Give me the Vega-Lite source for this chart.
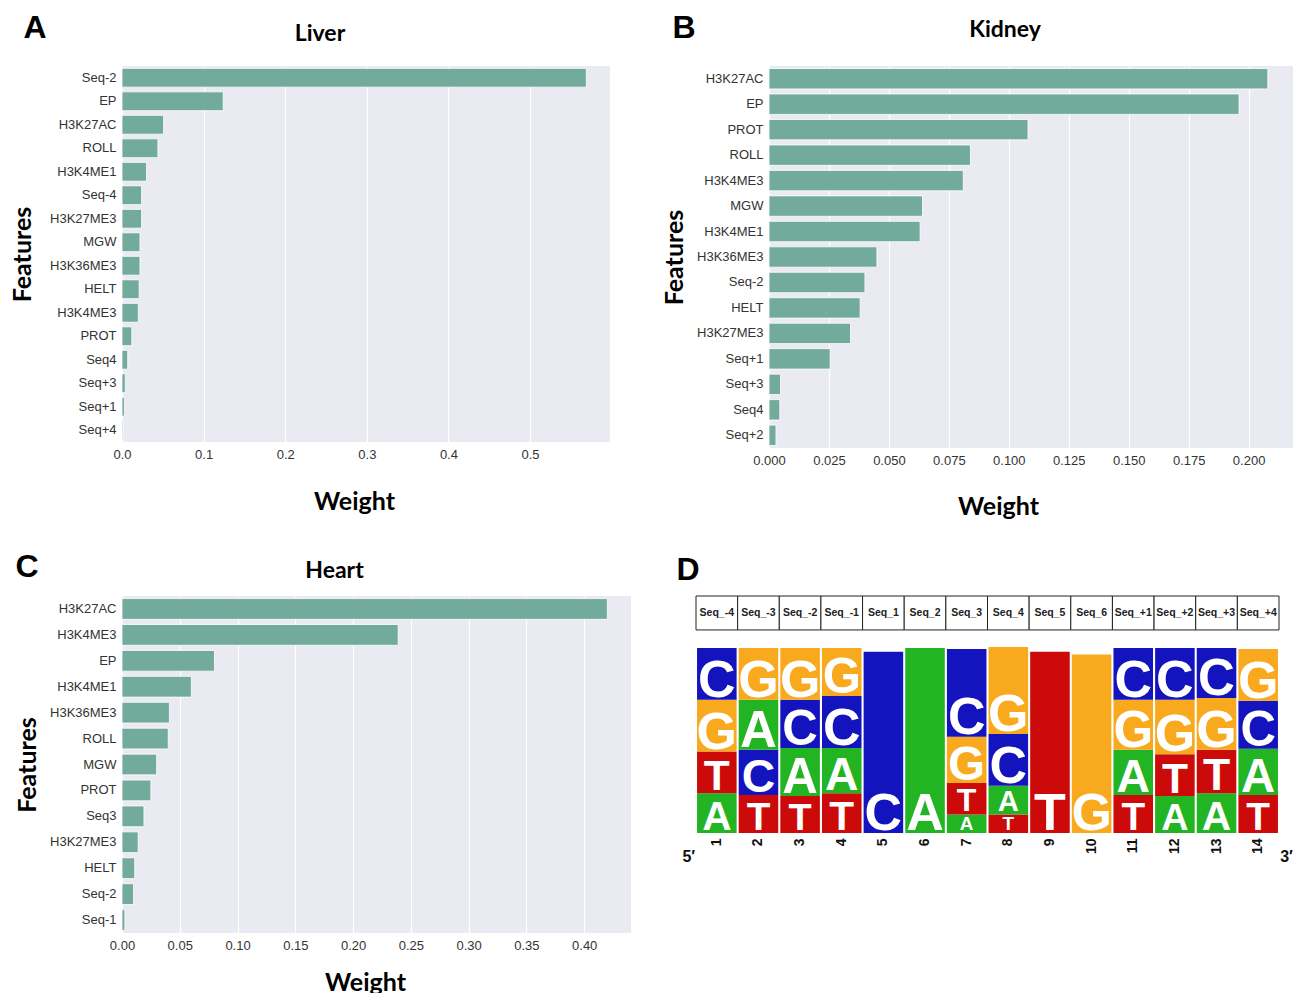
{
  "$schema": "https://vega.github.io/schema/vega-lite/v6.json",
  "padding": {"left": 10, "top": 12, "right": 0, "bottom": 0},
  "background": "white",
  "datasets": {
    "liver": [
      {"feature": "Seq-2", "weight": 0.569},
      {"feature": "EP", "weight": 0.124},
      {"feature": "H3K27AC", "weight": 0.051},
      {"feature": "ROLL", "weight": 0.044},
      {"feature": "H3K4ME1", "weight": 0.030},
      {"feature": "Seq-4", "weight": 0.024},
      {"feature": "H3K27ME3", "weight": 0.024},
      {"feature": "MGW", "weight": 0.022},
      {"feature": "H3K36ME3", "weight": 0.022},
      {"feature": "HELT", "weight": 0.021},
      {"feature": "H3K4ME3", "weight": 0.020},
      {"feature": "PROT", "weight": 0.012},
      {"feature": "Seq4", "weight": 0.007},
      {"feature": "Seq+3", "weight": 0.004},
      {"feature": "Seq+1", "weight": 0.003},
      {"feature": "Seq+4", "weight": 0.001}
    ],
    "kidney": [
      {"feature": "H3K27AC", "weight": 0.208},
      {"feature": "EP", "weight": 0.196},
      {"feature": "PROT", "weight": 0.108},
      {"feature": "ROLL", "weight": 0.084},
      {"feature": "H3K4ME3", "weight": 0.081},
      {"feature": "MGW", "weight": 0.064},
      {"feature": "H3K4ME1", "weight": 0.063},
      {"feature": "H3K36ME3", "weight": 0.045},
      {"feature": "Seq-2", "weight": 0.040},
      {"feature": "HELT", "weight": 0.038},
      {"feature": "H3K27ME3", "weight": 0.034},
      {"feature": "Seq+1", "weight": 0.0255},
      {"feature": "Seq+3", "weight": 0.0048},
      {"feature": "Seq4", "weight": 0.0045},
      {"feature": "Seq+2", "weight": 0.0029}
    ],
    "heart": [
      {"feature": "H3K27AC", "weight": 0.420},
      {"feature": "H3K4ME3", "weight": 0.239},
      {"feature": "EP", "weight": 0.080},
      {"feature": "H3K4ME1", "weight": 0.060},
      {"feature": "H3K36ME3", "weight": 0.041},
      {"feature": "ROLL", "weight": 0.040},
      {"feature": "MGW", "weight": 0.030},
      {"feature": "PROT", "weight": 0.025},
      {"feature": "Seq3", "weight": 0.019},
      {"feature": "H3K27ME3", "weight": 0.014},
      {"feature": "HELT", "weight": 0.011},
      {"feature": "Seq-2", "weight": 0.010},
      {"feature": "Seq-1", "weight": 0.0025}
    ],
    "header": [
      {"pos": 1, "label": "Seq_-4"}, {"pos": 2, "label": "Seq_-3"}, {"pos": 3, "label": "Seq_-2"},
      {"pos": 4, "label": "Seq_-1"}, {"pos": 5, "label": "Seq_1"}, {"pos": 6, "label": "Seq_2"},
      {"pos": 7, "label": "Seq_3"}, {"pos": 8, "label": "Seq_4"}, {"pos": 9, "label": "Seq_5"},
      {"pos": 10, "label": "Seq_6"}, {"pos": 11, "label": "Seq_+1"}, {"pos": 12, "label": "Seq_+2"},
      {"pos": 13, "label": "Seq_+3"}, {"pos": 14, "label": "Seq_+4"}
    ],
    "ends": [
      {"pos": 1, "label": "5′"},
      {"pos": 14, "label": "3′"}
    ],
    "logo": [
      {"pos": 1, "base": "A", "bits": 0.43, "rank": 1},
      {"pos": 1, "base": "T", "bits": 0.45, "rank": 2},
      {"pos": 1, "base": "G", "bits": 0.56, "rank": 3},
      {"pos": 1, "base": "C", "bits": 0.56, "rank": 4},
      {"pos": 2, "base": "T", "bits": 0.41, "rank": 1},
      {"pos": 2, "base": "C", "bits": 0.49, "rank": 2},
      {"pos": 2, "base": "A", "bits": 0.54, "rank": 3},
      {"pos": 2, "base": "G", "bits": 0.56, "rank": 4},
      {"pos": 3, "base": "T", "bits": 0.40, "rank": 1},
      {"pos": 3, "base": "A", "bits": 0.52, "rank": 2},
      {"pos": 3, "base": "C", "bits": 0.52, "rank": 3},
      {"pos": 3, "base": "G", "bits": 0.56, "rank": 4},
      {"pos": 4, "base": "T", "bits": 0.43, "rank": 1},
      {"pos": 4, "base": "A", "bits": 0.49, "rank": 2},
      {"pos": 4, "base": "C", "bits": 0.56, "rank": 3},
      {"pos": 4, "base": "G", "bits": 0.52, "rank": 4},
      {"pos": 5, "base": "C", "bits": 1.96, "rank": 1},
      {"pos": 6, "base": "A", "bits": 2.0, "rank": 1},
      {"pos": 7, "base": "A", "bits": 0.20, "rank": 1},
      {"pos": 7, "base": "T", "bits": 0.34, "rank": 2},
      {"pos": 7, "base": "G", "bits": 0.50, "rank": 3},
      {"pos": 7, "base": "C", "bits": 0.95, "rank": 4},
      {"pos": 8, "base": "T", "bits": 0.20, "rank": 1},
      {"pos": 8, "base": "A", "bits": 0.31, "rank": 2},
      {"pos": 8, "base": "C", "bits": 0.56, "rank": 3},
      {"pos": 8, "base": "G", "bits": 0.94, "rank": 4},
      {"pos": 9, "base": "T", "bits": 1.96, "rank": 1},
      {"pos": 10, "base": "G", "bits": 1.93, "rank": 1},
      {"pos": 11, "base": "T", "bits": 0.41, "rank": 1},
      {"pos": 11, "base": "A", "bits": 0.49, "rank": 2},
      {"pos": 11, "base": "G", "bits": 0.54, "rank": 3},
      {"pos": 11, "base": "C", "bits": 0.56, "rank": 4},
      {"pos": 12, "base": "A", "bits": 0.40, "rank": 1},
      {"pos": 12, "base": "T", "bits": 0.45, "rank": 2},
      {"pos": 12, "base": "G", "bits": 0.59, "rank": 3},
      {"pos": 12, "base": "C", "bits": 0.56, "rank": 4},
      {"pos": 13, "base": "A", "bits": 0.43, "rank": 1},
      {"pos": 13, "base": "T", "bits": 0.47, "rank": 2},
      {"pos": 13, "base": "G", "bits": 0.56, "rank": 3},
      {"pos": 13, "base": "C", "bits": 0.54, "rank": 4},
      {"pos": 14, "base": "T", "bits": 0.41, "rank": 1},
      {"pos": 14, "base": "A", "bits": 0.50, "rank": 2},
      {"pos": 14, "base": "C", "bits": 0.52, "rank": 3},
      {"pos": 14, "base": "G", "bits": 0.56, "rank": 4}
    ]
  },
  "columns": 1,
  "align": "none",
  "spacing": 32,
  "concat": [
    {
      "spacing": 52,
      "hconcat": [
        {
          "title": {"text": "A", "anchor": "start", "frame": "bounds", "font": "Liberation Sans", "fontSize": 32, "fontWeight": "bold", "offset": -22, "dx": 13},
          "vconcat": [
            {
              "title": {"text": "Liver", "frame": "group", "dx": -46, "offset": 20},
              "width": 488,
              "height": 376,
              "data": {"name": "liver"},
              "mark": {"type": "bar", "color": "#72AA9B", "stroke": "#FFFFFF", "strokeWidth": 0.8},
              "encoding": {
                "y": {"field": "feature", "type": "nominal", "sort": null,
                      "scale": {"paddingInner": 0.2, "paddingOuter": 0.1},
                      "axis": {"title": "Features", "titlePadding": 14, "labelPadding": 6, "grid": false}},
                "x": {"field": "weight", "type": "quantitative",
                      "scale": {"domain": [0, 0.598], "nice": false, "zero": true},
                      "axis": {"title": "Weight", "values": [0, 0.1, 0.2, 0.3, 0.4, 0.5], "format": ".1f", "labelPadding": 6, "titlePadding": 28, "titleX": 232}}
              }
            }
          ]
        },
        {
          "title": {"text": "B", "anchor": "start", "frame": "bounds", "font": "Liberation Sans", "fontSize": 32, "fontWeight": "bold", "offset": -26, "dx": 10},
          "vconcat": [
            {
              "title": {"text": "Kidney", "frame": "group", "dx": -26, "offset": 24},
              "width": 524,
              "height": 382,
              "data": {"name": "kidney"},
              "mark": {"type": "bar", "color": "#72AA9B", "stroke": "#FFFFFF", "strokeWidth": 0.8},
              "encoding": {
                "y": {"field": "feature", "type": "nominal", "sort": null,
                      "scale": {"paddingInner": 0.2, "paddingOuter": 0.1},
                      "axis": {"title": "Features", "titlePadding": 9, "labelPadding": 6, "grid": false}},
                "x": {"field": "weight", "type": "quantitative",
                      "scale": {"domain": [0, 0.2185], "nice": false, "zero": true},
                      "axis": {"title": "Weight", "values": [0, 0.025, 0.05, 0.075, 0.1, 0.125, 0.15, 0.175, 0.2], "format": ".3f", "labelPadding": 6, "titlePadding": 27, "titleX": 229}}
              }
            }
          ]
        }
      ]
    },
    {
      "spacing": 45,
      "hconcat": [
        {
          "title": {"text": "C", "anchor": "start", "frame": "bounds", "font": "Liberation Sans", "fontSize": 32, "fontWeight": "bold", "offset": -24, "dx": 0},
          "vconcat": [
            {
              "title": {"text": "Heart", "frame": "group", "dx": -42, "offset": 13},
              "width": 509,
              "height": 337,
              "data": {"name": "heart"},
              "mark": {"type": "bar", "color": "#72AA9B", "stroke": "#FFFFFF", "strokeWidth": 0.8},
              "encoding": {
                "y": {"field": "feature", "type": "nominal", "sort": null,
                      "scale": {"paddingInner": 0.2, "paddingOuter": 0.1},
                      "axis": {"title": "Features", "titlePadding": 9, "labelPadding": 6, "grid": false}},
                "x": {"field": "weight", "type": "quantitative",
                      "scale": {"domain": [0, 0.4405], "nice": false, "zero": true},
                      "axis": {"title": "Weight", "values": [0, 0.05, 0.1, 0.15, 0.2, 0.25, 0.3, 0.35, 0.4], "format": ".2f", "labelPadding": 6, "titlePadding": 18, "titleX": 243}}
              }
            }
          ]
        },
        {
          "title": {"text": "D", "anchor": "start", "frame": "bounds", "font": "Liberation Sans", "fontSize": 32, "fontWeight": "bold", "offset": 9, "dx": -6},
          "width": 583,
          "height": 237,
          "view": {"fill": "white", "stroke": null},
          "encoding": {
            "x": {"field": "pos", "type": "ordinal",
                  "scale": {"paddingInner": 0, "paddingOuter": 0},
                  "axis": {"title": null, "labelAngle": -90, "labelFont": "Liberation Sans", "labelFontWeight": "bold", "labelFontSize": 14, "labelColor": "#111", "labelPadding": 5, "grid": false}}
          },
          "layer": [
            {
              "data": {"name": "header"},
              "mark": {"type": "rect", "fill": "white", "stroke": "#222", "strokeWidth": 1},
              "encoding": {
                "y": {"datum": 2.195, "type": "quantitative", "scale": {"domain": [0, 2.562], "nice": false}, "axis": null},
                "y2": {"datum": 2.562}
              }
            },
            {
              "data": {"name": "header"},
              "mark": {"type": "text", "font": "Liberation Sans", "fontWeight": "bold", "fontSize": 10.5, "baseline": "middle", "color": "#222"},
              "encoding": {
                "y": {"datum": 2.378, "type": "quantitative", "scale": {"domain": [0, 2.562], "nice": false}, "axis": null},
                "text": {"field": "label"}
              }
            },
            {
              "data": {"name": "logo"},
              "transform": [{"stack": "bits", "groupby": ["pos"], "sort": [{"field": "rank", "order": "ascending"}], "as": ["y0", "y1"]}],
              "mark": {"type": "bar", "width": {"band": 0.95}},
              "encoding": {
                "y": {"field": "y0", "type": "quantitative", "scale": {"domain": [0, 2.562], "nice": false}, "axis": null},
                "y2": {"field": "y1"},
                "color": {"field": "base", "type": "nominal", "scale": {"domain": ["A", "C", "G", "T"], "range": ["#22B422", "#1414BE", "#F8A91E", "#CC0A0A"]}, "legend": null}
              }
            },
            {
              "data": {"name": "logo"},
              "transform": [{"stack": "bits", "groupby": ["pos"], "sort": [{"field": "rank", "order": "ascending"}], "as": ["y0", "y1"]}],
              "mark": {"type": "text", "font": "Liberation Sans", "fontWeight": "bold", "baseline": "alphabetic", "dy": -3, "color": "white"},
              "encoding": {
                "y": {"field": "y0", "type": "quantitative", "scale": {"domain": [0, 2.562], "nice": false}, "axis": null},
                "text": {"field": "base"},
                "size": {"field": "bits", "type": "quantitative", "scale": {"domain": [0, 0.55], "range": [0, 52], "clamp": true}, "legend": null}
              }
            },
            {
              "data": {"name": "ends"},
              "transform": [{"filter": "datum.pos == 1"}],
              "mark": {"type": "text", "font": "Liberation Sans", "fontWeight": "bold", "fontSize": 16, "dx": -28, "color": "#111"},
              "encoding": {
                "y": {"datum": -0.26, "type": "quantitative", "scale": {"domain": [0, 2.562], "nice": false}, "axis": null},
                "text": {"field": "label"}
              }
            },
            {
              "data": {"name": "ends"},
              "transform": [{"filter": "datum.pos == 14"}],
              "mark": {"type": "text", "font": "Liberation Sans", "fontWeight": "bold", "fontSize": 16, "align": "left", "dx": 22, "color": "#111"},
              "encoding": {
                "y": {"datum": -0.26, "type": "quantitative", "scale": {"domain": [0, 2.562], "nice": false}, "axis": null},
                "text": {"field": "label"}
              }
            }
          ]
        }
      ]
    }
  ],
  "config": {
    "view": {"fill": "#EAEAF2", "stroke": null},
    "axis": {"domain": false, "ticks": false, "labelFlush": false, "labelFont": "Liberation Sans", "labelFontSize": 13, "labelColor": "#333", "titleFont": "Lato", "titleFontSize": 25, "titleFontWeight": "bold", "titleColor": "black", "gridColor": "white", "gridWidth": 1.2},
    "title": {"font": "Lato", "fontSize": 23, "fontWeight": "bold", "color": "black"}
  }
}
